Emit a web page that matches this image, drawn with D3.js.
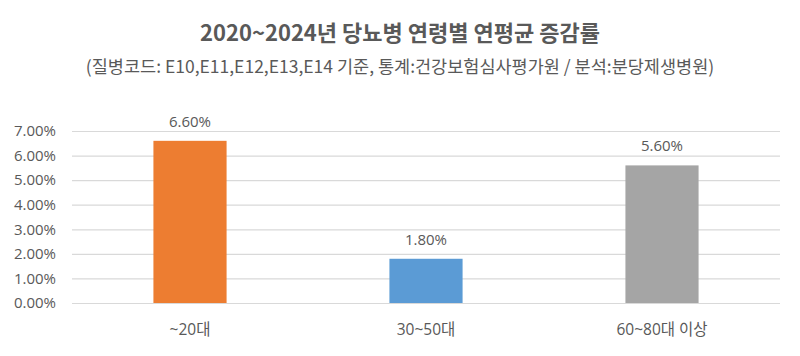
<!DOCTYPE html>
<html><head><meta charset="utf-8">
<script src="https://cdn.jsdelivr.net/npm/d3@7"></script>
<style>
body{margin:0;background:#fff;}
text{font-family:"Open Sans","Noto Sans CJK KR",sans-serif;fill:#595959;}
.k{font-family:"Noto Sans CJK KR",sans-serif;}
</style></head>
<body>
<svg id="c" width="800" height="356"></svg>
<script>
const categories = ["~20대", "30~50대", "60~80대 이상"];
const values = [6.6, 1.8, 5.6];
const colors = ["#ED7D31", "#5B9BD5", "#A5A5A5"];
const yTicks = [0, 1, 2, 3, 4, 5, 6, 7];
const title = "2020~2024년 당뇨병 연령별 연평균 증감률";
const subtitle = "(질병코드: E10,E11,E12,E13,E14 기준, 통계:건강보험심사평가원 / 분석:분당제생병원)";

const svg = d3.select("#c");
const m = {left:72, right:20, top:131, bottom:53};
const W = 800, H = 356;
const x = d3.scaleBand().domain(categories).range([m.left, W - m.right]).paddingInner(0.69).paddingOuter(0.345);
const y = d3.scaleLinear().domain([0, 7]).range([H - m.bottom, m.top]);

svg.append("text").attr("class","k").attr("x",400).attr("y",41).attr("text-anchor","middle")
  .attr("font-size",22).attr("font-weight","bold").style("fill","#595959").text(title);
svg.append("text").attr("class","k").attr("x",400).attr("y",73).attr("text-anchor","middle")
  .attr("font-size",17.5).text(subtitle);

const yAxis = d3.axisLeft(y).tickValues(yTicks).tickSize(-(W - m.left - m.right)).tickPadding(16)
  .tickFormat(d => d.toFixed(2) + "%");
const ga = svg.append("g").attr("transform", `translate(${m.left},0)`).call(yAxis);
ga.select(".domain").remove();
ga.selectAll(".tick line").attr("stroke","#D9D9D9").attr("stroke-width",1.2);
ga.selectAll(".tick text").attr("font-size",15).style("fill","#595959")
  .style("font-family",'"Open Sans",sans-serif');

svg.selectAll("rect.bar").data(values).join("rect").attr("class","bar")
  .attr("x",(d,i)=>x(categories[i])).attr("width",x.bandwidth())
  .attr("y",d=>y(d)).attr("height",d=>y(0)-y(d)).attr("fill",(d,i)=>colors[i]);

svg.selectAll("text.val").data(values).join("text").attr("class","val")
  .attr("x",(d,i)=>x(categories[i])+x.bandwidth()/2).attr("y",d=>y(d)-14)
  .attr("text-anchor","middle").attr("font-size",15).text(d=>d.toFixed(2)+"%");

const xAxis = d3.axisBottom(x).tickSize(0).tickPadding(21);
const gx = svg.append("g").attr("transform",`translate(0,${y(0)})`).call(xAxis);
gx.select(".domain").remove();
gx.selectAll(".tick text").attr("font-size",15.5).style("fill","#595959")
  .style("font-family",'"Open Sans","Noto Sans CJK KR",sans-serif');
</script>
</body></html>
